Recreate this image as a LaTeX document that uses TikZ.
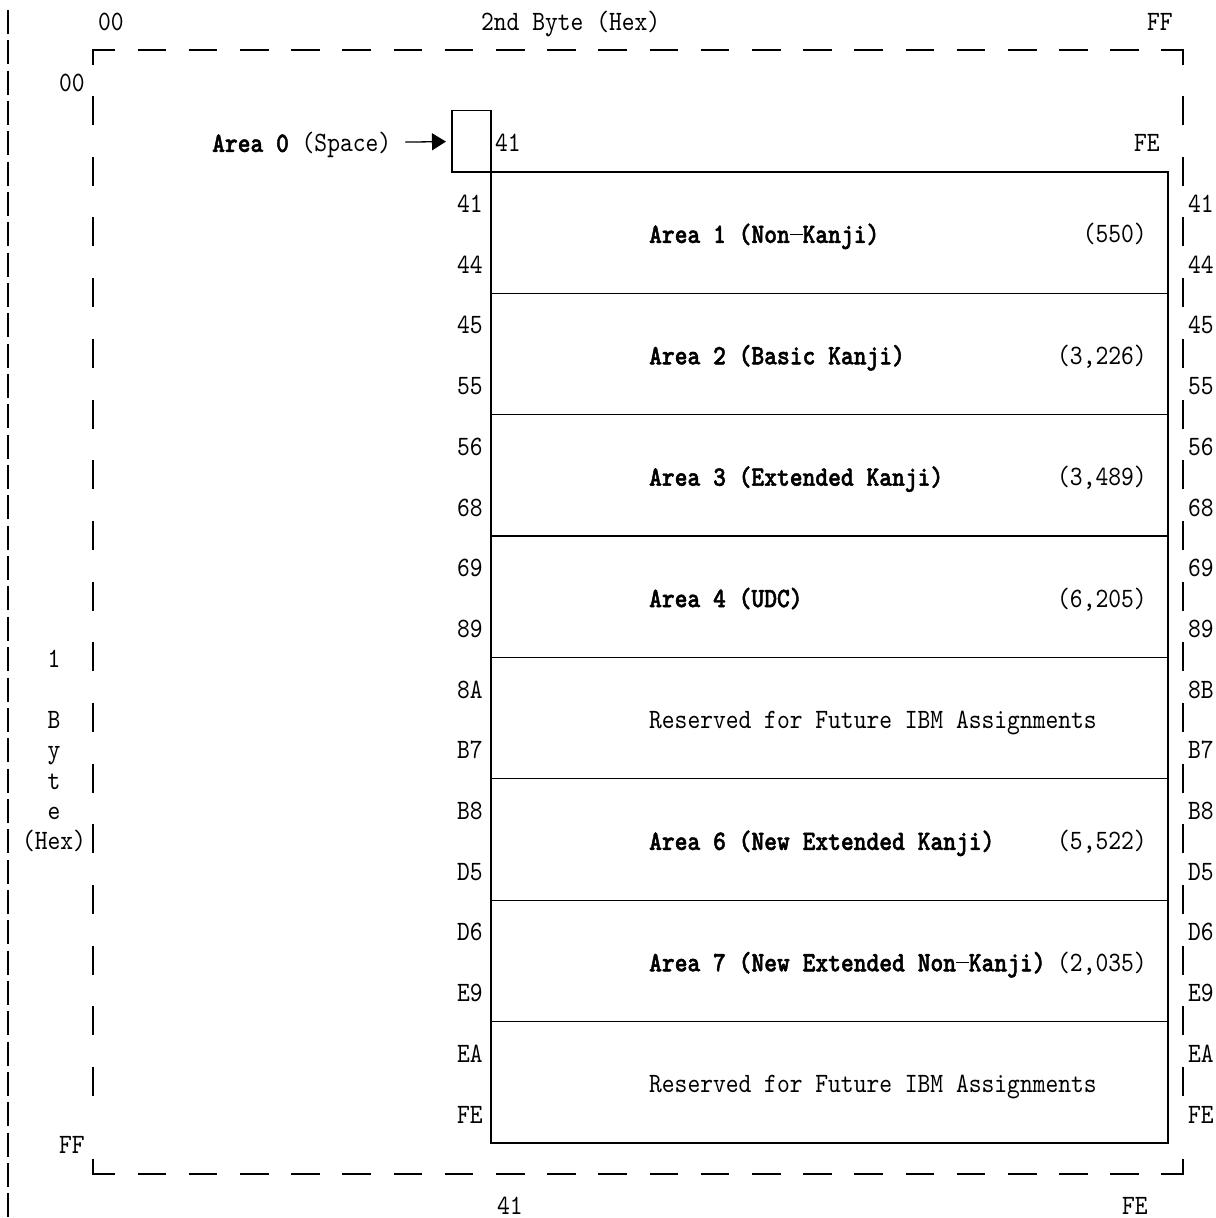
\documentclass[tikz,border=0pt]{standalone}
\usepackage{fontspec}
\setmonofont{lmmono10-regular}[Extension=.otf, BoldFont=lmmonolt10-bold, BoldFeatures={FakeBold=1.6}, FakeStretch=0.87]
\usetikzlibrary{arrows.meta, positioning}
\newcommand{\celldash}{\rule[8pt]{12.8pt}{1.3pt}}

\begin{document}
\begin{tikzpicture}[x=1pt, y=-30.35pt,
    every node/.style={font=\ttfamily\fontsize{28}{30}\selectfont, inner sep=0pt, text height=21pt, text depth=4pt},
    band/.style={draw, line width=1.2pt, outer sep=0pt, minimum width=677pt, minimum height=121.4pt},
    framestroke/.style={line width=1.6pt},
    hdash/.style={dash pattern=on 28.5pt off 22.7pt},
    vdash/.style={dash pattern=on 29pt off 31.7pt},
    leftrule/.style={line width=1.6pt, dash pattern=on 24pt off 6.35pt}
]
    \useasboundingbox (0,-0.725) rectangle (1216,39.41);

    % Left margin rule
    \draw[leftrule] (8,-0.4) -- (8,39.5);

    % Outer frame (dashed)
    \coordinate (tl) at (93,0.93);
    \coordinate (tr) at (1183,0.93);
    \coordinate (bl) at (93,37.96);
    \coordinate (br) at (1183,37.96);
    \draw[framestroke] ([yshift=-15pt]tl) -- (tl) -- ([xshift=22pt]tl);
    \draw[framestroke] ([xshift=-22pt]tr) -- (tr) -- ([yshift=-15pt]tr);
    \draw[framestroke] ([yshift=15pt]bl) -- (bl) -- ([xshift=22pt]bl);
    \draw[framestroke] ([xshift=-22pt]br) -- (br) -- ([yshift=15pt]br);
    \draw[framestroke, hdash] ([xshift=44.7pt]tl) -- ([xshift=-44pt]tr);
    \draw[framestroke, hdash] ([xshift=44.7pt]bl) -- ([xshift=-44pt]br);
    \draw[framestroke, vdash] (93,2.44) -- (93,35.4);
    \draw[framestroke, vdash] (1183,2.44) -- (1183,35.4);

    % Axis labels
    \node (top00) at (111,0) {00};
    \node (topcap) [anchor=west] at (481,0) {2nd Byte (Hex)};
    \node (topFF) at (1160,0) {FF};
    \node (left00) at (72,2) {00};
    \node (leftFF) at (72,37) {FF};
    \node (v1) at (54,21) {1};
    \node (vB) at (54,23) {B};
    \node (vy) at (54,24) {y};
    \node (vt) at (54,25) {t};
    \node (ve) at (54,26) {e};
    \node (vhex) at (54,27) {(Hex)};
    \node (bot41) at (510,39) {41};
    \node (botFE) at (1135,39) {FE};

    % Area 0
    \node (spacebox) [draw, line width=1.2pt, outer sep=0pt, minimum width=39pt, minimum height=61.3pt, anchor=south east] at (491,4.94) {};
    \node (area0) [anchor=west] at (212,4) {\textbf{Area 0} (Space)};
    \draw[line width=1.3pt, -{Triangle[length=14pt, width=17pt]}, shorten <=14pt, shorten >=6pt] (area0) -- (spacebox);
    \node (in41) at (508,4) {41};
    \node (inFE) at (1147,4) {FE};

    % Areas
    \node (band1) [band, anchor=north west] at (491,4.94) {};
    \node (band2) [band, below=0pt of band1] {};
    \node (band3) [band, below=0pt of band2] {};
    \node (band4) [band, below=0pt of band3] {};
    \node (band5) [band, below=0pt of band4] {};
    \node (band6) [band, below=0pt of band5] {};
    \node (band7) [band, below=0pt of band6] {};
    \node (band8) [band, below=0pt of band7] {};

    \node (name1) [anchor=west] at (649,7) {\textbf{Area 1 (Non\celldash Kanji)}};
    \node (name2) [anchor=west] at (649,11) {\textbf{Area 2 (Basic Kanji)}};
    \node (name3) [anchor=west] at (649,15) {\textbf{Area 3 (Extended Kanji)}};
    \node (name4) [anchor=west] at (649,19) {\textbf{Area 4 (UDC)}};
    \node (name5) [anchor=west] at (649,23) {Reserved for Future IBM Assignments};
    \node (name6) [anchor=west] at (649,27) {\textbf{Area 6 (New Extended Kanji)}};
    \node (name7) [anchor=west] at (649,31) {\textbf{Area 7 (New Extended Non\celldash Kanji)}};
    \node (name8) [anchor=west] at (649,35) {Reserved for Future IBM Assignments};

    \node (count1) [anchor=east] at (1147,7) {(550)};
    \node (count2) [anchor=east] at (1147,11) {(3,226)};
    \node (count3) [anchor=east] at (1147,15) {(3,489)};
    \node (count4) [anchor=east] at (1147,19) {(6,205)};
    \node (count6) [anchor=east] at (1147,27) {(5,522)};
    \node (count7) [anchor=east] at (1147,31) {(2,035)};

    % Row codes (left)
    \node (l1a) [anchor=east] at (483,6) {41};  \node (l1b) [anchor=east] at (483,8) {44};
    \node (l2a) [anchor=east] at (483,10) {45}; \node (l2b) [anchor=east] at (483,12) {55};
    \node (l3a) [anchor=east] at (483,14) {56}; \node (l3b) [anchor=east] at (483,16) {68};
    \node (l4a) [anchor=east] at (483,18) {69}; \node (l4b) [anchor=east] at (483,20) {89};
    \node (l5a) [anchor=east] at (483,22) {8A}; \node (l5b) [anchor=east] at (483,24) {B7};
    \node (l6a) [anchor=east] at (483,26) {B8}; \node (l6b) [anchor=east] at (483,28) {D5};
    \node (l7a) [anchor=east] at (483,30) {D6}; \node (l7b) [anchor=east] at (483,32) {E9};
    \node (l8a) [anchor=east] at (483,34) {EA}; \node (l8b) [anchor=east] at (483,36) {FE};

    % Row codes (right)
    \node (r1a) [anchor=west] at (1188,6) {41};  \node (r1b) [anchor=west] at (1188,8) {44};
    \node (r2a) [anchor=west] at (1188,10) {45}; \node (r2b) [anchor=west] at (1188,12) {55};
    \node (r3a) [anchor=west] at (1188,14) {56}; \node (r3b) [anchor=west] at (1188,16) {68};
    \node (r4a) [anchor=west] at (1188,18) {69}; \node (r4b) [anchor=west] at (1188,20) {89};
    \node (r5a) [anchor=west] at (1188,22) {8B}; \node (r5b) [anchor=west] at (1188,24) {B7};
    \node (r6a) [anchor=west] at (1188,26) {B8}; \node (r6b) [anchor=west] at (1188,28) {D5};
    \node (r7a) [anchor=west] at (1188,30) {D6}; \node (r7b) [anchor=west] at (1188,32) {E9};
    \node (r8a) [anchor=west] at (1188,34) {EA}; \node (r8b) [anchor=west] at (1188,36) {FE};

\end{tikzpicture}
\end{document}
